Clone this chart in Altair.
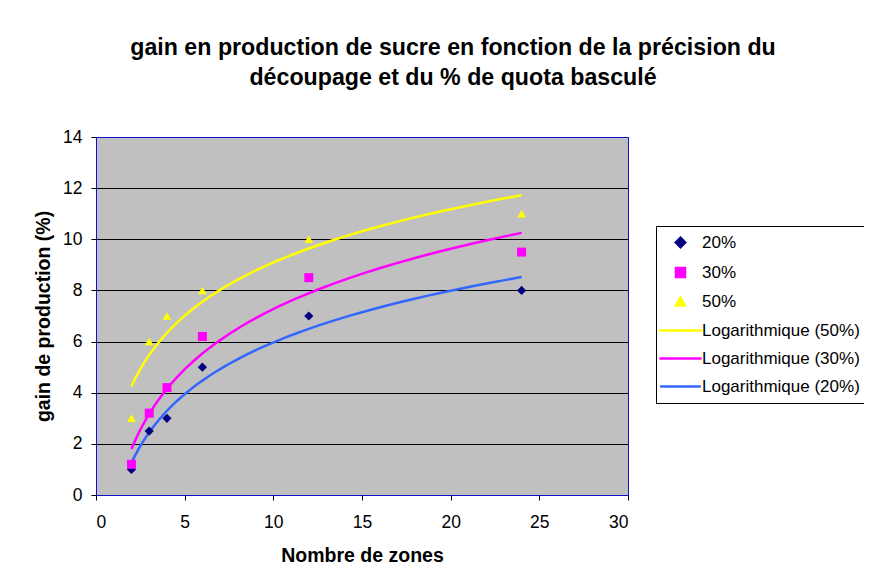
import altair as alt
import pandas as pd

# ---- data ----
zones = [2, 3, 4, 6, 12, 24]
gain_20 = [1.0, 2.5, 3.0, 5.0, 7.0, 8.0]
gain_30 = [1.2, 3.2, 4.2, 6.2, 8.5, 9.5]
gain_50 = [3.0, 6.0, 7.0, 8.0, 10.0, 11.0]

series_names = ["20%", "30%", "50%"]
trend_names = ["Logarithmique (50%)", "Logarithmique (30%)", "Logarithmique (20%)"]
legend_domain = series_names + trend_names
colors = ["#000080", "#FF00FF", "#FFFF00", "#FFFF00", "#FF00FF", "#3366FF"]
line_symbol = "M-5.1,0H5.1"
shapes = ["diamond", "square", "triangle-up", line_symbol, line_symbol, line_symbol]
marker_sizes = [85, 64, 120, 64, 64, 64]

x_ticks = [0, 5, 10, 15, 20, 25, 30]
y_ticks = [0, 2, 4, 6, 8, 10, 12, 14]

rows = []
for name, vals in zip(series_names, [gain_20, gain_30, gain_50]):
    for z, g in zip(zones, vals):
        rows.append({"zones": z, "gain": g, "series": name})
df = pd.DataFrame(rows)

font = "Liberation Sans, Arial, sans-serif"

color_scale = alt.Scale(domain=legend_domain, range=colors)
shape_scale = alt.Scale(domain=legend_domain, range=shapes)
size_scale = alt.Scale(domain=legend_domain, range=marker_sizes)

leg = alt.Legend(
    title=None,
    orient="none",
    legendX=560,
    legendY=89,
    strokeColor="#000000",
    fillColor="#FFFFFF",
    padding=8,
    labelFont=font,
    labelFontSize=17,
    labelColor="#000000",
    labelOffset=13,
    symbolOffset=8,
    symbolSize=50,
    symbolStrokeWidth=2.5,
    rowPadding=10,
    labelLimit=300,
)

x_enc = alt.X(
    "zones:Q",
    scale=alt.Scale(domain=[0, 30], nice=False),
    axis=alt.Axis(
        values=x_ticks,
        title="Nombre de zones",
        grid=False,
        domain=False,
        tickSize=5,
        labelFontSize=17.5,
        labelPadding=13,
        titleFontSize=19.5,
        titleFontWeight="bold",
        titlePadding=16,
    ),
)
y_enc = alt.Y(
    "gain:Q",
    scale=alt.Scale(domain=[0, 14], nice=False),
    axis=alt.Axis(
        values=y_ticks,
        title="gain de production (%)",
        grid=True,
        gridColor=alt.condition("datum.value == 14 || datum.value == 0",
                                alt.value("#1010D0"), alt.value("#000000")),
        domain=False,
        tickSize=5,
        labelFontSize=17.5,
        labelPadding=9,
        titleFontSize=19.5,
        titleFontWeight="bold",
        titlePadding=9,
    ),
)

base = alt.Chart(df)

trend = (
    base.transform_regression("zones", "gain", method="log", groupby=["series"])
    .transform_calculate(series='"Logarithmique (" + datum.series + ")"')
    .mark_line(strokeWidth=2.5)
    .encode(
        x=x_enc,
        y=y_enc,
        stroke=alt.Stroke("series:N", scale=color_scale, legend=leg),
    )
)

points = base.mark_point(filled=True, opacity=1).encode(
    x=x_enc,
    y=y_enc,
    fill=alt.Fill("series:N", scale=color_scale, legend=leg),
    shape=alt.Shape("series:N", scale=shape_scale, legend=leg),
    size=alt.Size("series:N", scale=size_scale, legend=None),
)

chart = (
    alt.layer(trend, points)
    .properties(
        width=532,
        height=358,
        autosize=alt.AutoSizeParams(type="none"),
        padding={"left": 88, "top": 129, "right": 236, "bottom": 79},
        title=alt.Title(
            ["gain en production de sucre en fonction de la précision du",
             "découpage et du % de quota basculé"],
            font=font,
            fontSize=23.2,
            fontWeight="bold",
            color="#000000",
            lineHeight=30,
            anchor="middle",
            frame="group",
            dx=91,
            offset=38,
        ),
    )
    .configure_view(fill="#C0C0C0", stroke="#1010D0", strokeWidth=1)
    .configure_axis(
        labelFont=font,
        titleFont=font,
        labelColor="#000000",
        titleColor="#000000",
        tickColor="#000000",
    )
)

chart.save("out.html", embed_options={"renderer": "svg", "actions": False})
